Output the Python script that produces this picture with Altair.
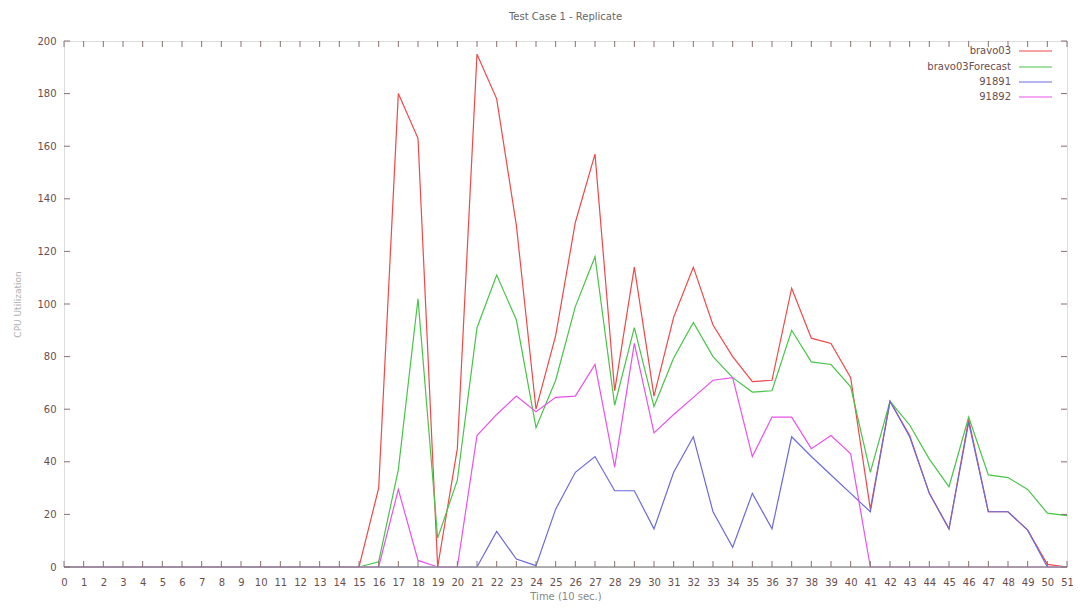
import altair as alt
import pandas as pd

# ---------------- data ----------------
times = list(range(0, 52))
series_names = ["bravo03", "bravo03Forecast", "91891", "91892"]
series_colors = ["#f04848", "#48c448", "#6a6ade", "#ea52ea"]

bravo03 = [0] * 16 + [30, 180, 163, 0, 45, 195, 178, 130, 60, 88, 131, 157, 67, 114,
                      65, 95, 114, 92, 80, 70.5, 71, 106, 87, 85, 72, 22, 63, 50, 28,
                      14.5, 56, 21, 21, 14, 1, 0]
bravo03_forecast = [0] * 16 + [2, 37, 102, 11, 33, 91, 111, 94, 53, 71, 99, 118, 61.5, 91,
                               61, 79.5, 93, 80, 72, 66.5, 67, 90, 78, 77, 68.5, 36, 63, 54, 41,
                               30.5, 57, 35, 34, 29.5, 20.5, 19.5]
s91891 = [0] * 22 + [13.5, 3, 0.5, 22, 36, 42, 29, 29, 14.5, 36, 49.5, 21, 7.5, 28, 14.5,
                     49.5, 42, 35, 28, 21, 63, 49.5, 28, 14.5, 55, 21, 21, 14, 0, 0]
s91892 = [0] * 17 + [29.5, 2.5, 0, 0, 50, 58, 65, 59, 64.5, 65, 77, 38, 85, 51, 58, 64.5,
                     71, 72, 42, 57, 57, 45, 50, 43] + [0] * 11

x_ticks = list(range(0, 52))
y_ticks = list(range(0, 201, 20))

values = [bravo03, bravo03_forecast, s91891, s91892]
rows = []
for name, vals in zip(series_names, values):
    for t, v in zip(times, vals):
        rows.append({"time": t, "value": v, "series": name})
df = pd.DataFrame(rows)

W, H = 1003, 526
FONT = "DejaVu Sans"
LABEL_COLOR = "#6a4e4e"
TICK_COLOR = "#8a7070"
FRAME_COLOR = "#999999"

x_scale = alt.Scale(domain=[0, 51], nice=False, zero=False)
y_scale = alt.Scale(domain=[0, 200], nice=False)

x_axis = alt.Axis(values=x_ticks, title="Time (10 sec.)", labelFontSize=10,
                  labelColor=LABEL_COLOR, labelFont=FONT, ticks=False, tickSize=0,
                  domain=False, grid=False, labelPadding=10, labelFlush=False,
                  labelOverlap=False, labelBound=False,
                  titleFont=FONT, titleFontSize=10, titleFontWeight="normal",
                  titleColor="#888888", titleY=29, titleBaseline="middle")
y_axis = alt.Axis(values=y_ticks, title="CPU Utilization", labelFontSize=10,
                  labelColor=LABEL_COLOR, labelFont=FONT, ticks=False, tickSize=0,
                  domain=False, grid=False, labelPadding=8, labelOverlap=False,
                  titleFont=FONT, titleFontSize=9, titleFontWeight="normal",
                  titleColor="#b0b0b0", titleX=-47, titleY=H / 2,
                  titleAlign="center", titleBaseline="middle")

lines = alt.Chart(df).mark_line(strokeWidth=1.2).encode(
    x=alt.X("time:Q", scale=x_scale, axis=x_axis, title="Time (10 sec.)"),
    y=alt.Y("value:Q", scale=y_scale, axis=y_axis, title="CPU Utilization"),
    color=alt.Color("series:N", scale=alt.Scale(domain=series_names, range=series_colors),
                    legend=None),
    detail="series:N",
)

xt = pd.DataFrame({"t": x_ticks})
yt = pd.DataFrame({"v": y_ticks})

tick_bottom = alt.Chart(xt).mark_rule(color=TICK_COLOR, strokeWidth=1).encode(
    x=alt.X("t:Q", scale=x_scale, axis=x_axis, title="Time (10 sec.)"),
    y=alt.value(H), y2=alt.value(H - 6))
tick_top = alt.Chart(xt).mark_rule(color=TICK_COLOR, strokeWidth=1).encode(
    x=alt.X("t:Q", scale=x_scale, axis=x_axis, title="Time (10 sec.)"),
    y=alt.value(0), y2=alt.value(6))
tick_left = alt.Chart(yt).mark_rule(color=TICK_COLOR, strokeWidth=1).encode(
    y=alt.Y("v:Q", scale=y_scale, axis=y_axis, title="CPU Utilization"),
    x=alt.value(0), x2=alt.value(6))
tick_right = alt.Chart(yt).mark_rule(color=TICK_COLOR, strokeWidth=1).encode(
    y=alt.Y("v:Q", scale=y_scale, axis=y_axis, title="CPU Utilization"),
    x=alt.value(W), x2=alt.value(W - 6))

# bottom frame edge drawn above the lines (hides the zero baselines, as in the reference)
frame_bottom = alt.Chart(pd.DataFrame({"k": [0]})).mark_rule(
    color=FRAME_COLOR, strokeWidth=1.5).encode(
    x=alt.value(0), x2=alt.value(W), y=alt.value(H))

legend_layers = []
for i, (name, col) in enumerate(zip(series_names, series_colors)):
    ly = 10 + round(i * 15.5)
    ld = pd.DataFrame({"series": [name]})
    legend_layers.append(
        alt.Chart(ld).mark_text(align="right", baseline="middle", fontSize=10, font=FONT,
                                color=LABEL_COLOR).encode(
            text="series:N", x=alt.value(W - 56), y=alt.value(ly)))
    legend_layers.append(
        alt.Chart(ld).mark_rule(color=col, strokeWidth=1.2).encode(
            x=alt.value(W - 48), x2=alt.value(W - 15), y=alt.value(ly)))

chart = alt.layer(lines, frame_bottom, tick_bottom, tick_top, tick_left, tick_right,
                  *legend_layers).properties(
    width=W, height=H,
    title=alt.TitleParams("Test Case 1 - Replicate", fontSize=10, font=FONT, color="#666666",
                          fontWeight="normal", anchor="middle", offset=14),
    autosize=alt.AutoSizeParams(type="none"),
    padding={"left": 56, "top": 33, "right": 6, "bottom": 34},
).configure_view(stroke=FRAME_COLOR, strokeWidth=1).configure(background="white")

chart.save("out.html", embed_options={"renderer": "svg", "actions": False})
